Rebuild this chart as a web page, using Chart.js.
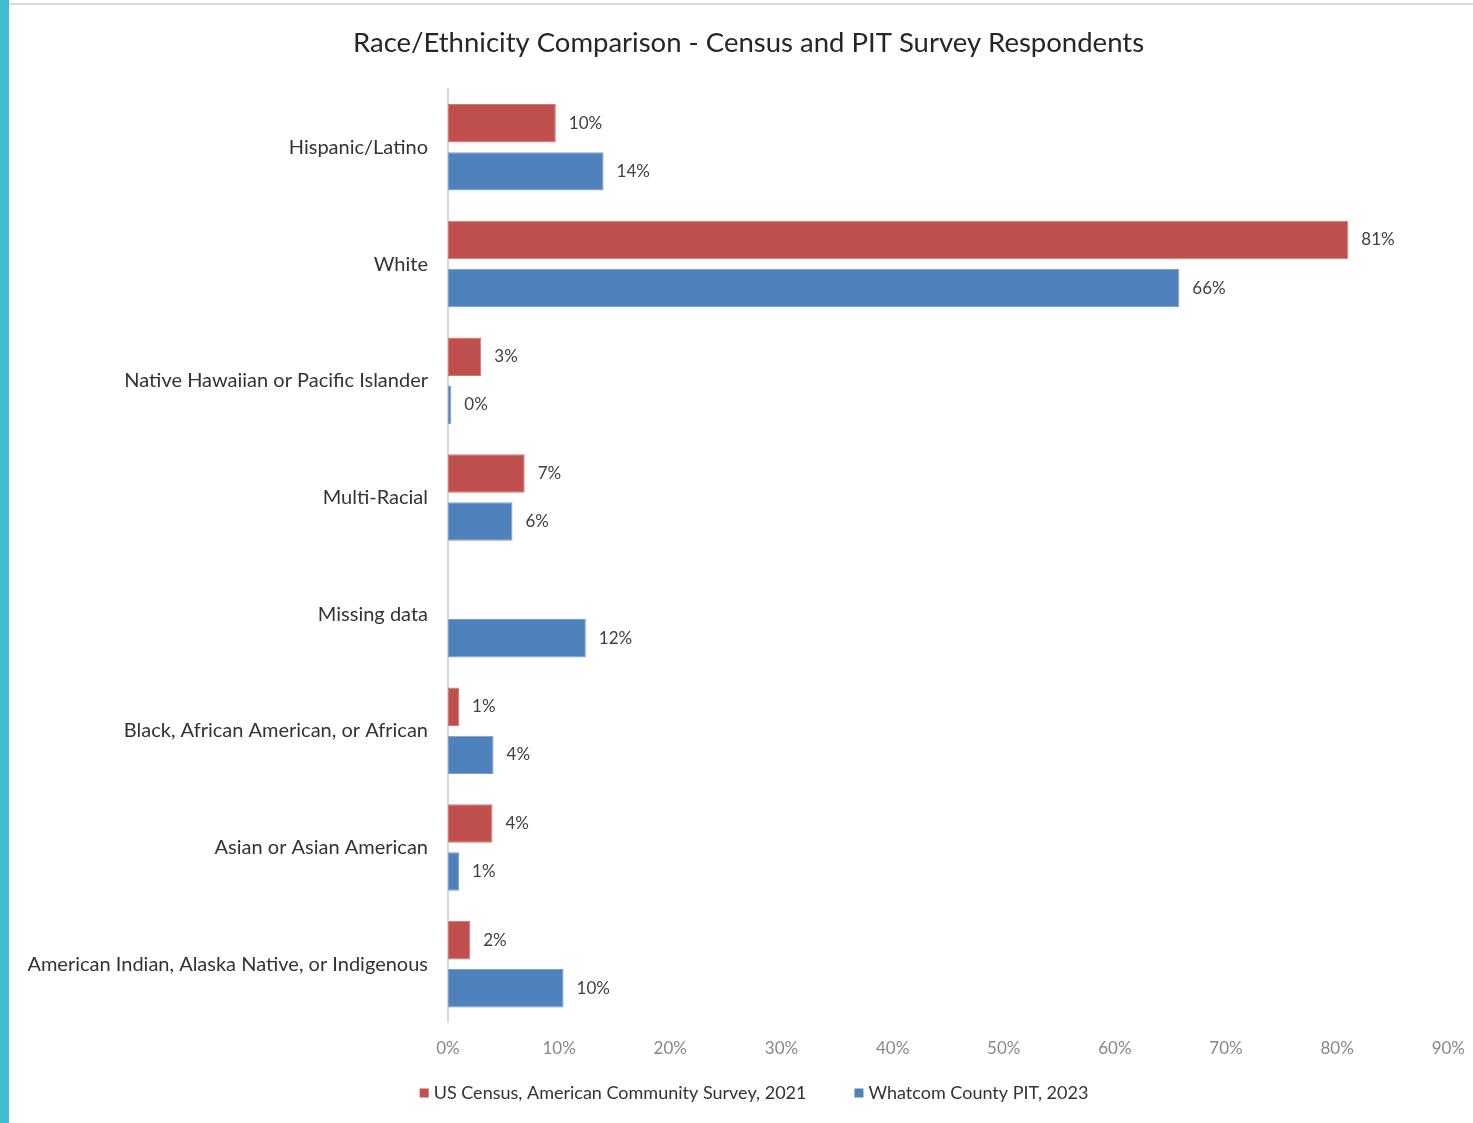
<!DOCTYPE html>
<html>
<head>
<meta charset="utf-8">
<script src="https://cdn.jsdelivr.net/npm/chart.js@4.4.1/dist/chart.umd.min.js"></script>
<style>
  body { margin: 0; background: #fff; }
  #strip { position: absolute; left: 0; top: 0; width: 9px; height: 1123px; background: #41bcd5; }
  #topline { position: absolute; left: 9px; top: 3px; width: 1464px; height: 2px; background: #dcdcdc; }
  #chart { position: absolute; left: 0; top: 0; }
</style>
</head>
<body>
<div id="strip"></div>
<div id="topline"></div>
<canvas id="chart" width="1473" height="1123"></canvas>
<script>
const categories = [
  "Hispanic/Latino",
  "White",
  "Native Hawaiian or Pacific Islander",
  "Multi-Racial",
  "Missing data",
  "Black, African American, or African",
  "Asian or Asian American",
  "American Indian, Alaska Native, or Indigenous",
];

const censusValues = [9.7, 81.0, 3.0, 6.9, null, 1.0, 4.0, 2.0];
const pitValues = [14.0, 65.8, 0.3, 5.8, 12.4, 4.1, 1.0, 10.4];

const xTicks = [0, 10, 20, 30, 40, 50, 60, 70, 80, 90];

const seriesNames = ["US Census, American Community Survey, 2021", "Whatcom County PIT, 2023"];

const fontName = "Lato, 'Open Sans', sans-serif";

// draws the "10%" style labels right of each bar
const barLabels = {
  id: "barLabels",
  afterDatasetsDraw(chart) {
    const ctx = chart.ctx;
    ctx.save();
    ctx.font = "17px " + fontName;
    ctx.fillStyle = "#404040";
    ctx.textBaseline = "middle";
    ctx.textAlign = "left";
    chart.data.datasets.forEach((ds, i) => {
      const meta = chart.getDatasetMeta(i);
      meta.data.forEach((bar, j) => {
        const v = ds.data[j];
        if (v === null || v === undefined) return;
        ctx.fillText(Math.round(v) + "%", bar.x + 13, bar.y);
      });
    });
    ctx.restore();
  },
};

// simple legend under the axis, square + text, like the office chart
const bottomLegend = {
  id: "bottomLegend",
  afterDraw(chart) {
    const ctx = chart.ctx;
    ctx.save();
    ctx.font = "18px " + fontName;
    ctx.textBaseline = "middle";
    ctx.textAlign = "left";
    const items = chart.data.datasets.map((ds) => ({
      text: ds.label,
      color: ds.backgroundColor,
      w: 9 + 5 + ctx.measureText(ds.label).width,
    }));
    const gap = 48;
    const total = items.reduce((s, it) => s + it.w, 0) + gap * (items.length - 1);
    let x = 754 - total / 2;
    const y = 1093;
    items.forEach((it) => {
      ctx.fillStyle = it.color;
      ctx.fillRect(x, y - 4.5, 9, 9);
      ctx.fillStyle = "#333";
      ctx.fillText(it.text, x + 14, y);
      x += it.w + gap;
    });
    ctx.restore();
  },
};

const data = {
  labels: categories,
  datasets: [
    {
      label: seriesNames[0],
      data: censusValues,
      backgroundColor: "#c0504d",
      borderColor: "#d27a78",
      borderWidth: 1,
      borderSkipped: false,
    },
    {
      label: seriesNames[1],
      data: pitValues,
      backgroundColor: "#4f81bd",
      borderColor: "#7a9fd0",
      borderWidth: 1,
      borderSkipped: false,
    },
  ],
};

const chart = new Chart(document.getElementById("chart"), {
  type: "bar",
  data,
  plugins: [barLabels, bottomLegend],
  options: {
    responsive: false,
    animation: false,
    indexAxis: "y",
    categoryPercentage: 0.824,
    barPercentage: 0.8,
    layout: { padding: { left: 28, right: 4, top: 0, bottom: 56 } },
    plugins: {
      title: {
        display: true,
        text: "Race/Ethnicity Comparison - Census and PIT Survey Respondents",
        color: "#262626",
        font: { family: fontName, size: 27.5, weight: "normal" },
        padding: { top: 27, bottom: 29 },
      },
      legend: { display: false },
      tooltip: { enabled: false },
    },
    scales: {
      x: {
        min: 0,
        max: 90,
        afterBuildTicks(scale) {
          scale.ticks = xTicks.map((v) => ({ value: v }));
        },
        ticks: {
          color: "#888",
          font: { family: fontName, size: 17 },
          padding: 8,
          callback: (v) => v + "%",
        },
        grid: { display: false },
        border: { display: false },
      },
      y: {
        afterFit(scale) {
          scale.width = 420;
        },
        ticks: {
          color: "#333",
          font: { family: fontName, size: 20 },
          padding: 12,
        },
        grid: { display: false },
        border: { display: true, color: "#d9d9d9", width: 2 },
      },
    },
  },
});
</script>
</body>
</html>
